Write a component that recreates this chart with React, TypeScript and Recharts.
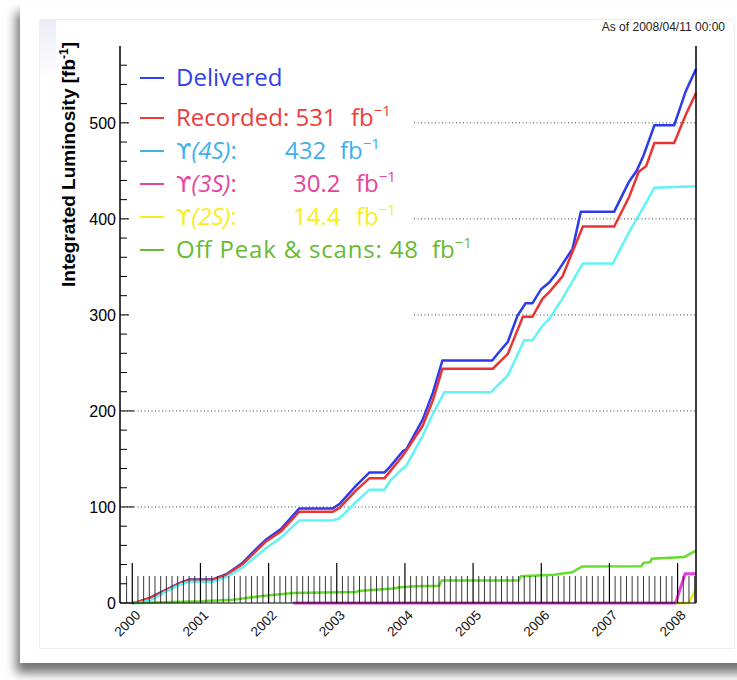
import React from "react";
import { LineChart, Line, XAxis, YAxis, CartesianGrid } from "recharts";

// axis ranges
const X_MIN = 1999.82;
const X_MAX = 2008.27;
const Y_MAX = 580;

// integrated luminosity, fb^-1, by decimal year
const deliveredYears = [2000.0, 2000.06, 2000.25, 2000.5, 2000.7, 2000.84, 2001.18, 2001.38, 2001.62, 2001.8, 2001.96, 2002.18, 2002.45, 2002.94, 2003.04, 2003.28, 2003.48, 2003.7, 2003.77, 2003.97, 2004.02, 2004.26, 2004.41, 2004.55, 2005.28, 2005.36, 2005.51, 2005.65, 2005.77, 2005.87, 2006.0, 2006.12, 2006.22, 2006.46, 2006.58, 2007.07, 2007.24, 2007.29, 2007.4, 2007.5, 2007.66, 2007.95, 2008.12, 2008.27];
const deliveredLumi = [0, 0.5, 5, 14, 21, 24.5, 24.5, 30, 42, 55, 66, 77, 98.5, 98.5, 103, 122, 136, 136, 141, 158, 160, 191, 219, 252.5, 252.5, 259.5, 272, 299, 312, 312, 327, 334, 343, 369, 407.5, 407.5, 432, 439, 450, 466, 497.5, 497.5, 533, 556];

const recordedYears = [2000.0, 2000.06, 2000.25, 2000.5, 2000.7, 2000.84, 2001.18, 2001.38, 2001.62, 2001.96, 2002.18, 2002.45, 2002.94, 2003.04, 2003.28, 2003.48, 2003.7, 2003.77, 2003.97, 2004.26, 2004.41, 2004.55, 2005.29, 2005.51, 2005.73, 2005.87, 2006.02, 2006.12, 2006.31, 2006.61, 2007.07, 2007.29, 2007.43, 2007.54, 2007.66, 2007.95, 2008.12, 2008.27];
const recordedLumi = [0, 0.5, 5, 13.5, 20.5, 24, 24, 29, 40.5, 64, 74.5, 95, 95, 99, 117, 130, 130, 136, 153.5, 184.5, 211, 244, 244, 259.5, 298, 298, 317, 324, 340, 392, 392, 423, 449, 455, 479, 479, 508.5, 531];

const y4sYears = [2000.0, 2000.1, 2000.3, 2000.5, 2000.7, 2000.84, 2001.18, 2001.38, 2001.62, 2001.96, 2002.18, 2002.45, 2002.94, 2003.04, 2003.28, 2003.48, 2003.7, 2003.77, 2003.92, 2004.02, 2004.26, 2004.41, 2004.58, 2005.26, 2005.51, 2005.75, 2005.87, 2006.02, 2006.12, 2006.31, 2006.61, 2007.05, 2007.29, 2007.49, 2007.66, 2008.27];
const y4sLumi = [0, 0, 4, 12, 19, 22, 22, 27, 37, 57, 68, 86, 86, 88, 105, 118, 118, 126, 137, 143, 174, 197, 219.5, 219.5, 237, 273.5, 273.5, 289, 296, 317, 353.5, 353.5, 386.5, 411, 432.5, 434];

const y3sYears = [2002.36, 2007.97, 2008.11, 2008.27];
const y3sLumi = [0, 0, 30.5, 30.5];

const y2sYears = [2007.97, 2008.16, 2008.27];
const y2sLumi = [0, 0, 14.4];

const offPeakYears = [2000.0, 2000.16, 2001.0, 2001.48, 2001.87, 2002.36, 2003.28, 2003.32, 2003.82, 2003.93, 2004.16, 2004.5, 2004.54, 2005.67, 2005.7, 2006.19, 2006.45, 2006.6, 2007.47, 2007.5, 2007.6, 2007.62, 2008.1, 2008.27];
const offPeakLumi = [0, 0.3, 1.8, 3.5, 7, 10.5, 11.5, 12.5, 15, 16.4, 17.4, 18, 23.5, 23.5, 27.8, 29.5, 32, 38, 38.3, 41.8, 42.5, 46, 48, 54.5];

const yearLabels = ["2000", "2001", "2002", "2003", "2004", "2005", "2006", "2007", "2008"];
const yMajorTicks = [0, 100, 200, 300, 400, 500];
const gridValues = [100, 200, 300, 400, 500];

// minor ticks: every 20 fb^-1, every month (Dec 1999 .. Apr 2008)
const yTicks = Array.from({ length: 29 }, (_, i) => i * 20);
const monthTicks = Array.from({ length: 101 }, (_, i) => 1999 + (11 + i) / 12).filter((t) => t <= X_MAX);

const pts = (ts: number[], vs: number[]) => ts.map((t, i) => ({ t, v: vs[i] }));

const FONT = "Liberation Sans, Arial, Helvetica, sans-serif";
const LEG_FONT = "Open Sans, DejaVu Sans, sans-serif";

const XTick = (props: any) => {
  const { x, y, payload } = props;
  const v = payload.value;
  const yr = Math.round(v);
  const isYear = Math.abs(v - yr) < 1e-6;
  return (
    <g>
      <line x1={x} x2={x} y1={y} y2={y - (isYear ? 40 : 27)} stroke={isYear ? "#000" : "#222"} strokeWidth={isYear ? 1.2 : 0.9} />
      {isYear && (
        <text transform={`translate(${x + 9},${y + 13}) rotate(-45)`} textAnchor="end" fontSize={13.5} fontFamily={FONT} fill="#111">
          {yearLabels[yr - 2000]}
        </text>
      )}
    </g>
  );
};

const LeftTick = (props: any) => {
  const { x, y, payload } = props;
  const major = yMajorTicks.includes(payload.value);
  return (
    <g>
      <line x1={x} x2={x + (major ? 14 : 7)} y1={y} y2={y} stroke="#000" strokeWidth={1} />
      {major && (
        <text x={x - 4} y={y} dy={6} textAnchor="end" fontSize={16} fontFamily={FONT} fill="#000">
          {payload.value}
        </text>
      )}
    </g>
  );
};

const RightTick = (props: any) => {
  const { x, y, payload } = props;
  const major = yMajorTicks.includes(payload.value);
  return <line x1={x - (major ? 15 : 8)} x2={x} y1={y} y2={y} stroke="#000" strokeWidth={1} />;
};

const Sup = ({ children }: { children: string }) => (
  <tspan dy={-10} fontSize={15}>{children}</tspan>
);

const Ups = ({ n }: { n: string }) => (
  <>
    <tspan fontFamily="DejaVu Sans" fontStyle="normal" fontSize={22}>ϒ</tspan>
    <tspan fontStyle="italic">({n}S)</tspan>:
  </>
);

const legendRows = [
  { color: "#3140ee", y: 78 },
  { color: "#ee3b3b", y: 118 },
  { color: "#3fb0ec", y: 151 },
  { color: "#e6449c", y: 184 },
  { color: "#f6ee22", y: 217 },
  { color: "#66bb33", y: 250 },
];

export default function App() {
  return (
    <div style={{ position: "absolute", left: 0, top: 0, width: 737, height: 680, background: "#fff", overflow: "hidden" }}>
      <div style={{ position: "absolute", left: 20, top: 2, width: 740, height: 661, background: "#fff", boxShadow: "-4px 10px 10px rgba(0,0,0,0.55)" }} />
      <div style={{ position: "absolute", left: 39, top: 19, width: 694, height: 628, border: "1px solid #eeeeee" }} />
      <div style={{ position: "absolute", left: 40, top: 20, width: 16, height: 60, background: "linear-gradient(#ececf8, #ffffff)" }} />

      <div style={{ position: "absolute", left: 0, top: 0 }}>
        <LineChart width={737} height={680} margin={{ top: 46, right: 0, bottom: 0, left: 0 }}>
          <CartesianGrid yAxisId="l" horizontal vertical={false} horizontalValues={gridValues} stroke="#444" strokeDasharray="1 2.5" />
          <XAxis dataKey="t" type="number" domain={[X_MIN, X_MAX]} ticks={monthTicks} interval={0}
            tick={<XTick />} tickLine={false} tickSize={0} tickMargin={0} height={77} stroke="#000" strokeWidth={1.1} />
          <YAxis yAxisId="l" type="number" domain={[0, Y_MAX]} ticks={yTicks} interval={0}
            tick={<LeftTick />} tickLine={false} tickSize={0} tickMargin={0} width={120} stroke="#000" strokeWidth={1.5} />
          <YAxis yAxisId="r" orientation="right" type="number" domain={[0, Y_MAX]} ticks={yTicks} interval={0}
            tick={<RightTick />} tickLine={false} tickSize={0} tickMargin={0} width={41} stroke="#000" strokeWidth={1.5} />
          <XAxis xAxisId="top" orientation="top" dataKey="t" type="number" domain={[X_MIN, X_MAX]} tick={false} tickLine={false} height={0} stroke="#000" strokeWidth={1.5} />

          <Line yAxisId="l" data={pts(deliveredYears, deliveredLumi)} dataKey="v" type="linear" stroke="#2f3bea" strokeWidth={2.5} dot={false} isAnimationActive={false} />
          <Line yAxisId="l" data={pts(recordedYears, recordedLumi)} dataKey="v" type="linear" stroke="#ea3434" strokeWidth={2.5} dot={false} isAnimationActive={false} />
          <Line yAxisId="l" data={pts(y4sYears, y4sLumi)} dataKey="v" type="linear" stroke="#62f4f4" strokeWidth={2.5} dot={false} isAnimationActive={false} />
          <Line yAxisId="l" data={pts(y3sYears, y3sLumi)} dataKey="v" type="linear" stroke="#e83fe0" strokeWidth={3} dot={false} isAnimationActive={false} />
          <Line yAxisId="l" data={pts(y2sYears, y2sLumi)} dataKey="v" type="linear" stroke="#eaea1c" strokeWidth={2.5} dot={false} isAnimationActive={false} />
          <Line yAxisId="l" data={pts(offPeakYears, offPeakLumi)} dataKey="v" type="linear" stroke="#66dd2a" strokeWidth={2.5} dot={false} isAnimationActive={false} />
        </LineChart>
      </div>

      <svg width={737} height={680} style={{ position: "absolute", left: 0, top: 0, pointerEvents: "none" }}>
        <text x={725} y={31} textAnchor="end" fontSize={12} fontFamily={FONT} fill="#222">As of 2008/04/11 00:00</text>
        <text transform="translate(75,42) rotate(-90)" textAnchor="end" fontSize={19} fontWeight="bold" fontFamily={FONT} fill="#000">
          Integrated Luminosity [fb<tspan dy={-7} fontSize={12}>-1</tspan><tspan dy={7}>]</tspan>
        </text>

        <rect x={129} y={50} width={285} height={270} fill="#fff" />
        {legendRows.map((r) => (
          <line key={r.y} x1={140} x2={164} y1={r.y} y2={r.y} stroke={r.color} strokeWidth={2} />
        ))}
        <g fontFamily={LEG_FONT} fontSize={24}>
          <text x={176} y={86} fill={legendRows[0].color}>Delivered</text>
          <text x={176} y={126} fill={legendRows[1].color}>Recorded: 531</text>
          <text x={351} y={126} fill={legendRows[1].color}>fb<Sup>−1</Sup></text>

          <text x={176} y={159} fill={legendRows[2].color}><Ups n="4" /></text>
          <text x={285} y={159} fill={legendRows[2].color}>432</text>
          <text x={340} y={159} fill={legendRows[2].color}>fb<Sup>−1</Sup></text>

          <text x={176} y={192} fill={legendRows[3].color}><Ups n="3" /></text>
          <text x={293} y={192} fill={legendRows[3].color}>30.2</text>
          <text x={356} y={192} fill={legendRows[3].color}>fb<Sup>−1</Sup></text>

          <text x={176} y={225} fill={legendRows[4].color}><Ups n="2" /></text>
          <text x={293} y={225} fill={legendRows[4].color}>14.4</text>
          <text x={356} y={225} fill={legendRows[4].color}>fb<Sup>−1</Sup></text>

          <text x={176} y={258} fill={legendRows[5].color} textLength={242} lengthAdjust="spacing">Off Peak &amp; scans: 48</text>
          <text x={432} y={258} fill={legendRows[5].color}>fb<Sup>−1</Sup></text>
        </g>
      </svg>
    </div>
  );
}
